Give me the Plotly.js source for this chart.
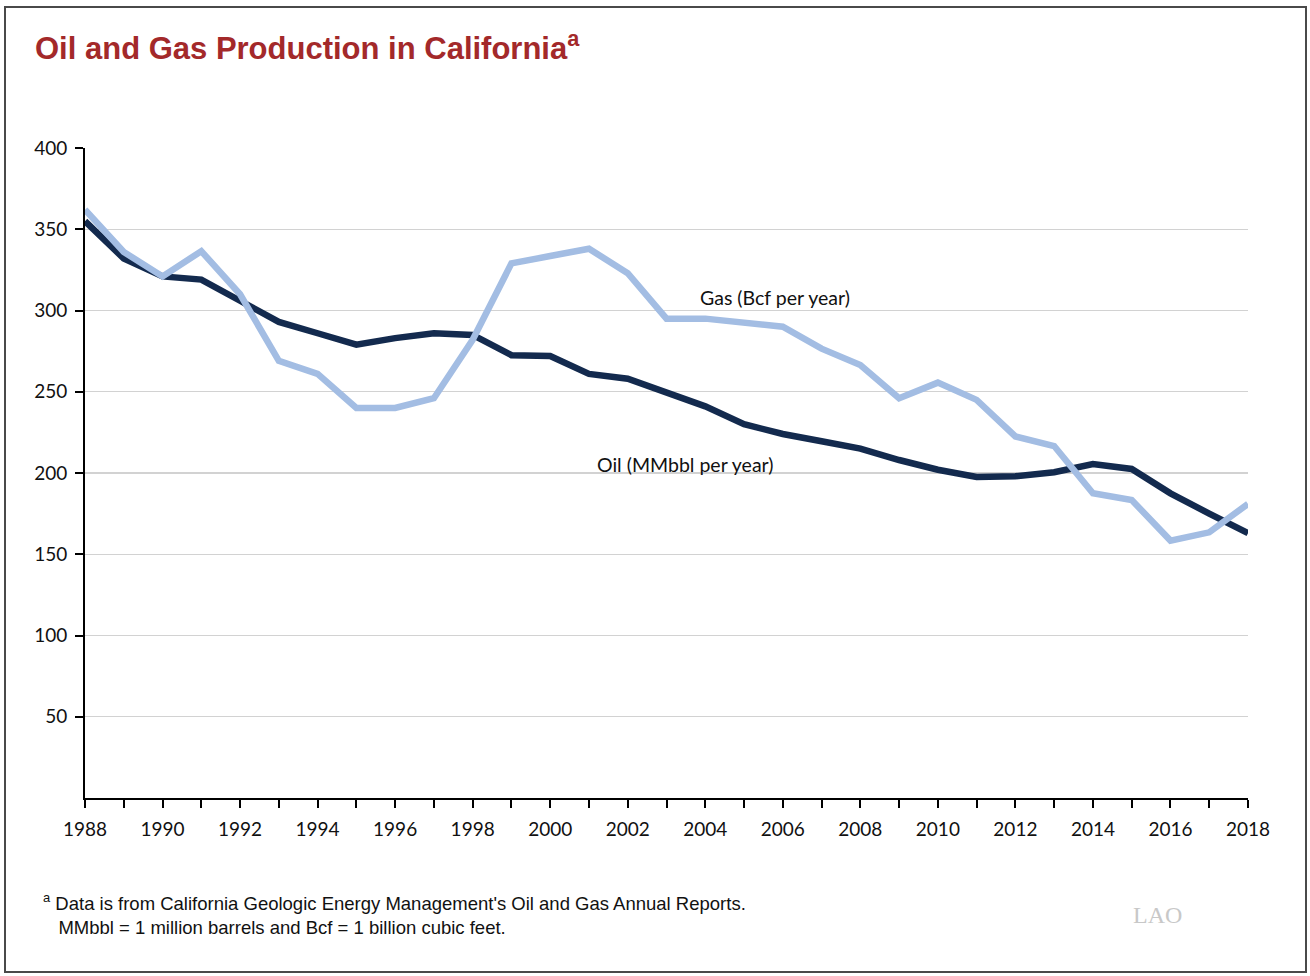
<!DOCTYPE html>
<html>
<head>
<meta charset="utf-8">
<script src="https://cdn.plot.ly/plotly-3.0.1.min.js"></script>
<style>
html,body{margin:0;padding:0;background:#fff;}
#chart{width:1310px;height:976px;}
#frame{position:absolute;left:4px;top:6px;width:1303px;height:967px;border:2px solid #4a4a4a;pointer-events:none;box-sizing:border-box;}
</style>
</head>
<body>
<div id="chart"></div>
<div id="frame"></div>
<script>
const years = [1988,1989,1990,1991,1992,1993,1994,1995,1996,1997,1998,1999,2000,2001,2002,2003,2004,2005,2006,2007,2008,2009,2010,2011,2012,2013,2014,2015,2016,2017,2018];
const oil = [355,332,321,319,306,293,286,279,283,286,285,272.5,272,261,258,249,241,230,224,219.5,215,208,202,197.5,198,200.5,205.5,202.5,187.5,175,163];
const gas = [362,336,321,336.5,310,269,261,240,240,246,282,329,333.5,338,323,295,295,292.7,290,276.5,266.5,246,255.6,245,222.5,216.6,187.5,183.4,158.4,163.5,181];
const yTicks = [50,100,150,200,250,300,350,400];
const xTickText = years.map(y => (y % 2 === 0 ? String(y) : ""));

const lblFont = "Lato, 'Open Sans', sans-serif";

const traces = [
  {x: years, y: oil, type: "scatter", mode: "lines", name: "Oil (MMbbl per year)",
   line: {color: "#132a4e", width: 6.5}, hoverinfo: "x+y"},
  {x: years, y: gas, type: "scatter", mode: "lines", name: "Gas (Bcf per year)",
   line: {color: "#a3bde3", width: 6.5}, hoverinfo: "x+y"}
];

const layout = {
  width: 1310, height: 976,
  margin: {l: 85, r: 62, t: 148, b: 178},
  paper_bgcolor: "#fff", plot_bgcolor: "#fff",
  showlegend: false,
  xaxis: {
    range: [1988, 2018], tickvals: years, ticktext: xTickText,
    showgrid: false, zeroline: false, showline: true, linecolor: "#000", linewidth: 2,
    ticks: "outside", ticklen: 8, tickwidth: 2, tickcolor: "#000",
    tickfont: {family: lblFont, size: 19, color: "#111"}, ticklabelstandoff: 5
  },
  yaxis: {
    range: [0, 400], tickvals: yTicks,
    showgrid: true, gridcolor: "#d2d2d2", gridwidth: 1.2, zeroline: false,
    showline: true, linecolor: "#000", linewidth: 2,
    ticks: "outside", ticklen: 8, tickwidth: 2, tickcolor: "#000",
    tickfont: {family: lblFont, size: 19, color: "#111"}, ticklabelstandoff: 4
  },
  annotations: [
    {xref: "paper", yref: "paper", x: -0.045, y: 1.157, xanchor: "left", yanchor: "middle",
     text: "<b>Oil and Gas Production in California<sup>a</sup></b>", showarrow: false,
     font: {family: "'Liberation Sans', Arial, sans-serif", size: 31, color: "#a3292a"}},
    {xref: "x", yref: "y", x: 2005.8, y: 308, text: "Gas (Bcf per year)", showarrow: false,
     font: {family: lblFont, size: 19.5, color: "#111"}},
    {xref: "x", yref: "y", x: 2003.5, y: 205, text: "Oil (MMbbl per year)", showarrow: false,
     font: {family: lblFont, size: 19.5, color: "#111"}},
    {xref: "paper", yref: "paper", x: -0.038, y: -0.139, xanchor: "left", yanchor: "top", align: "left",
     text: "<sup>a</sup> Data is from California Geologic Energy Management's Oil and Gas Annual Reports.<br>   MMbbl = 1 million barrels and Bcf = 1 billion cubic feet.",
     showarrow: false, font: {family: "'Liberation Sans', Arial, sans-serif", size: 18.5, color: "#111"}},
    {xref: "paper", yref: "paper", x: 0.899, y: -0.18, xanchor: "left", yanchor: "middle",
     text: "LAO", showarrow: false,
     font: {family: "'Liberation Serif', 'DejaVu Serif', serif", size: 24, color: "#c8c8c8"}}
  ]
};

Plotly.newPlot("chart", traces, layout, {displayModeBar: false, staticPlot: true});
</script>
</body>
</html>
